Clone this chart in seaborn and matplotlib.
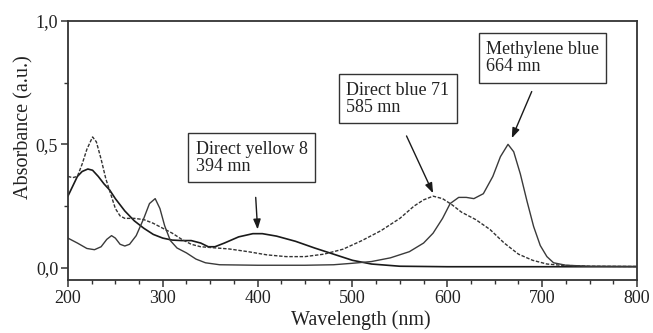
import matplotlib
matplotlib.use("Agg")
import matplotlib.pyplot as plt
import seaborn as sns
from matplotlib.ticker import MultipleLocator, FuncFormatter

# UV-Vis absorbance spectra (wavelength in nm, absorbance in a.u.)
dy8_wl = [200, 205, 210, 215, 221, 226, 232, 238, 244, 250, 260, 270, 280, 290,
          300, 310, 320, 330, 340, 348, 355, 365, 380, 395, 405, 420, 440, 460,
          480, 500, 520, 550, 600, 700, 800]
dy8_abs = [0.29, 0.33, 0.37, 0.39, 0.40, 0.395, 0.37, 0.34, 0.315, 0.28, 0.23,
           0.19, 0.16, 0.135, 0.12, 0.112, 0.11, 0.11, 0.10, 0.085, 0.085, 0.10,
           0.125, 0.138, 0.138, 0.128, 0.107, 0.08, 0.055, 0.03, 0.015, 0.006,
           0.004, 0.004, 0.004]

db71_wl = [200, 205, 210, 215, 220, 226, 230, 235, 240, 245, 250, 255, 260, 270,
           280, 290, 300, 310, 320, 330, 340, 350, 370, 390, 410, 430, 450, 470,
           490, 510, 530, 550, 565, 575, 585, 595, 605, 615, 630, 645, 660, 675,
           690, 705, 720, 750, 800]
db71_abs = [0.37, 0.365, 0.37, 0.42, 0.48, 0.53, 0.51, 0.44, 0.36, 0.30, 0.24,
            0.21, 0.20, 0.20, 0.195, 0.18, 0.16, 0.14, 0.115, 0.095, 0.085, 0.082,
            0.076, 0.065, 0.052, 0.045, 0.045, 0.055, 0.075, 0.11, 0.15, 0.20,
            0.25, 0.275, 0.29, 0.28, 0.255, 0.225, 0.195, 0.155, 0.10, 0.055,
            0.03, 0.015, 0.01, 0.006, 0.005]

mb_wl = [200, 210, 220, 228, 235, 241, 246, 250, 255, 260, 265, 272, 280, 286,
         292, 297, 302, 308, 315, 325, 335, 345, 360, 400, 450, 480, 500, 520,
         540, 560, 575, 585, 595, 603, 612, 620, 628, 638, 648, 656, 664, 670,
         677, 684, 691, 698, 705, 712, 725, 750, 800]
mb_abs = [0.12, 0.10, 0.078, 0.073, 0.085, 0.115, 0.13, 0.12, 0.095, 0.088,
          0.095, 0.13, 0.20, 0.26, 0.28, 0.24, 0.17, 0.11, 0.08, 0.06, 0.035,
          0.02, 0.012, 0.01, 0.01, 0.012, 0.018, 0.025, 0.04, 0.065, 0.10, 0.14,
          0.20, 0.26, 0.285, 0.285, 0.28, 0.30, 0.37, 0.45, 0.50, 0.47, 0.38,
          0.27, 0.167, 0.09, 0.045, 0.02, 0.01, 0.006, 0.005]

# Peak labels: text, label centre, arrow tail, arrow tip
labels = ["Direct yellow 8\n394 mn", "Direct blue 71\n585 mn", "Methylene blue\n664 mn"]
label_pos = [(393.6, 0.445), (548, 0.684), (700.5, 0.85)]
arrow_tail = [(398, 0.285), (557, 0.534), (689, 0.714)]
arrow_tip = [(400, 0.155), (585, 0.302), (668, 0.525)]

sns.set_style("ticks")
plt.rcParams["font.family"] = ["Liberation Serif", "DejaVu Serif"]
ink = "#222222"

fig = plt.figure(figsize=(6.53, 3.33), dpi=100)
ax = fig.add_axes([0.104, 0.159, 0.8715, 0.778])

sns.lineplot(x=dy8_wl, y=dy8_abs, ax=ax, color="#1a1a1a", lw=1.2)
sns.lineplot(x=db71_wl, y=db71_abs, ax=ax, color="#333333", lw=1.0)
ax.lines[-1].set_dashes((2.5, 1.2))
sns.lineplot(x=mb_wl, y=mb_abs, ax=ax, color="#3a3a3a", lw=1.0)

ax.set_xlim(200, 800)
ax.set_ylim(-0.05, 1.0)
ax.xaxis.set_major_locator(MultipleLocator(100))
ax.xaxis.set_minor_locator(MultipleLocator(25))
ax.yaxis.set_major_locator(MultipleLocator(0.5))
ax.yaxis.set_minor_locator(MultipleLocator(0.25))
ax.yaxis.set_major_formatter(FuncFormatter(lambda v, _: f"{v:.1f}".replace(".", ",")))

for s in ax.spines.values():
    s.set_visible(True)
    s.set_color("#333333")
    s.set_linewidth(1.3)

ax.tick_params(which="major", direction="out", length=5, width=1.1,
               colors="#333333", labelcolor=ink, labelsize=13, pad=2)
ax.tick_params(which="minor", direction="out", length=3, width=1.0, colors="#333333")
ax.tick_params(top=False, right=False, which="both")

ax.set_xlabel("Wavelength (nm)", fontsize=14.5, color=ink)
ax.set_ylabel("Absorbance (a.u.)", fontsize=14.5, color=ink)
ax.xaxis.set_label_coords(0.515, -0.118)
ax.yaxis.set_label_coords(-0.06, 0.59)

for txt, pos, tail, tip in zip(labels, label_pos, arrow_tail, arrow_tip):
    ax.annotate("", xy=tip, xytext=tail,
                arrowprops=dict(arrowstyle="-|>,head_length=0.6,head_width=0.22",
                                color="#1a1a1a", lw=1.0, shrinkA=0, shrinkB=0))
    ax.text(pos[0], pos[1], txt, ha="center", va="center", multialignment="left",
            fontsize=13, color=ink, linespacing=1.05,
            bbox=dict(boxstyle="square,pad=0.4", facecolor="white",
                      edgecolor="#333333", lw=1.0))

fig.savefig("out.png", dpi=100)
